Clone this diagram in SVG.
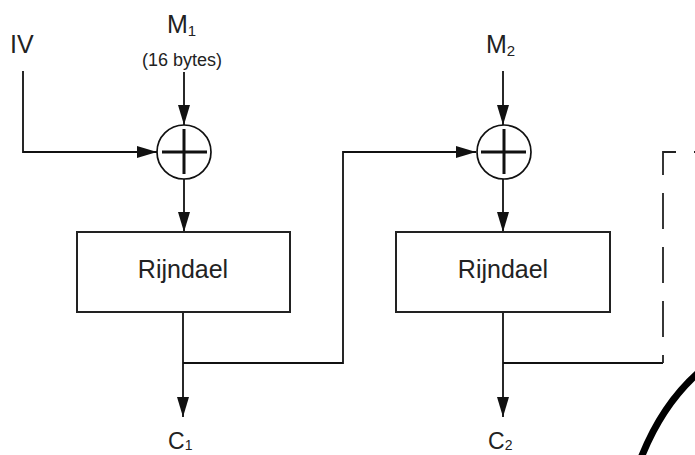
<svg xmlns="http://www.w3.org/2000/svg" width="695" height="455" viewBox="0 0 695 455">
<style>
.ln{fill:none;stroke:#111;stroke-width:1.8}
.box{fill:#fff;stroke:#222;stroke-width:2}
.xor{fill:#fff;stroke:#111;stroke-width:1.7}
.cross{stroke:#111;stroke-width:3}
.t{font-family:"Liberation Sans",Arial,sans-serif;fill:#222}
.dash{fill:none;stroke:#222;stroke-width:1.8;stroke-dasharray:36 18}
</style>
<defs>
<marker id="ah" markerUnits="userSpaceOnUse" markerWidth="20" markerHeight="12" refX="20" refY="6" orient="auto">
<path d="M0,0 L20,6 L0,12 z" fill="#111"/>
</marker>
</defs>
<g id="labels">
<text class="t" x="10" y="53" font-size="25">IV</text>
<text class="t" x="167" y="33" font-size="25">M<tspan font-size="15" dy="3">1</tspan></text>
<text class="t" x="182" y="66" font-size="18" text-anchor="middle">(16 bytes)</text>
<text class="t" x="486" y="53" font-size="25">M<tspan font-size="15" dy="3">2</tspan></text>
<text class="t" x="168" y="449" font-size="23">C<tspan font-size="14" dy="1">1</tspan></text>
<text class="t" x="488" y="449" font-size="23">C<tspan font-size="14" dy="1">2</tspan></text>
</g>
<g id="connectors">
<path class="ln" d="M23,71 V152 H157" marker-end="url(#ah)"/>
<path class="ln" d="M184,72 V125" marker-end="url(#ah)"/>
<path class="ln" d="M184,179 V232" marker-end="url(#ah)"/>
<path class="ln" d="M183,312 V417" marker-end="url(#ah)"/>
<path class="ln" d="M183,363 H343 V152 H476" marker-end="url(#ah)"/>
<path class="ln" d="M503,71 V125" marker-end="url(#ah)"/>
<path class="ln" d="M503,179 V232" marker-end="url(#ah)"/>
<path class="ln" d="M503,312 V417" marker-end="url(#ah)"/>
<path class="ln" d="M503,363 H663"/>
<path class="dash" d="M730,152 H663 V363"/>
</g>
<g id="xor1">
<circle class="xor" cx="184" cy="152" r="27"/>
<path class="cross" d="M162,152 H207 M184,129 V174"/>
</g>
<g id="xor2">
<circle class="xor" cx="504" cy="152" r="27"/>
<path class="cross" d="M481,152 H526 M504,129 V174"/>
</g>
<g id="rijndael1">
<rect class="box" x="77" y="232" width="213" height="80"/>
<text class="t" x="183" y="278" font-size="25" text-anchor="middle">Rijndael</text>
</g>
<g id="rijndael2">
<rect class="box" x="396" y="232" width="214" height="80"/>
<text class="t" x="503" y="278" font-size="25" text-anchor="middle">Rijndael</text>
</g>
<path d="M641,458 Q662,405 698,373" fill="none" stroke="#000" stroke-width="7"/>
</svg>
